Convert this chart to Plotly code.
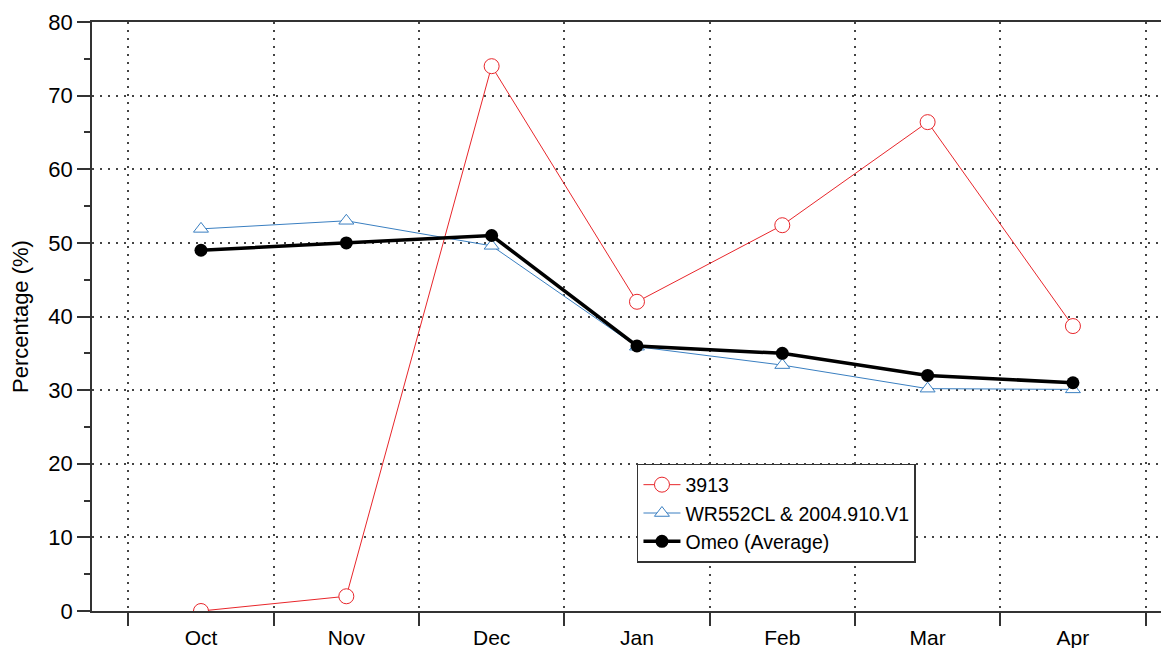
import plotly.graph_objects as go

months = ["Oct", "Nov", "Dec", "Jan", "Feb", "Mar", "Apr"]
s3913 = [0, 2, 74, 42, 52.4, 66.4, 38.7]
wr552 = [51.9, 53.0, 49.6, 35.9, 33.4, 30.2, 30.1]
omeo = [49, 50, 51, 36, 35, 32, 31]
y_ticks = [0, 10, 20, 30, 40, 50, 60, 70, 80]

FONT = "Liberation Sans, Arial, Helvetica, sans-serif"

fig = go.Figure()
fig.add_trace(go.Scatter(
    x=months, y=s3913, name="3913", mode="lines+markers",
    line=dict(color="#e8262b", width=1),
    marker=dict(symbol="circle", size=15, color="white",
                line=dict(color="#e8262b", width=1)),
))
fig.add_trace(go.Scatter(
    x=months, y=wr552, name="WR552CL & 2004.910.V1", mode="lines+markers",
    line=dict(color="#3a7fc1", width=1),
    marker=dict(symbol="triangle-up", size=13, color="white",
                line=dict(color="#3a7fc1", width=1)),
))
fig.add_trace(go.Scatter(
    x=months, y=omeo, name="Omeo (Average)", mode="lines+markers",
    line=dict(color="black", width=3.5),
    marker=dict(symbol="circle", size=13, color="black"),
))

GRID = "#444"
fig.update_layout(
    width=1161, height=640,
    margin=dict(l=84, r=0, t=14, b=37, autoexpand=False),
    paper_bgcolor="white", plot_bgcolor="white",
    font=dict(family=FONT, size=22, color="black"),
    showlegend=True,
    legend=dict(
        x=0.506, y=0.2496, xanchor="left", yanchor="top",
        bgcolor="white", bordercolor="#333", borderwidth=1.5,
        font=dict(family=FONT, size=19.5, color="black"),
        tracegroupgap=0, itemwidth=37,
    ),
    xaxis=dict(
        type="category", range=[-0.75, 6.661], automargin=False,
        tickson="boundaries", ticks="outside", ticklen=13, tickwidth=1.5,
        tickcolor="#333", ticklabelstandoff=7,
        showgrid=True, gridcolor=GRID, griddash="2px,6px", gridwidth=1.5,
        showline=True, linecolor="#333", linewidth=1.5, mirror=True,
        zeroline=False, tickfont=dict(size=21),
    ),
    yaxis=dict(
        range=[0, 80], tickvals=y_ticks, ticks="outside", ticklen=13,
        tickwidth=1.5, tickcolor="#333", automargin=False,
        minor=dict(dtick=5, ticks="outside", ticklen=6, tickcolor="#333",
                   showgrid=False, tickwidth=1.5),
        showgrid=True, gridcolor=GRID, griddash="2px,6px", gridwidth=1.5,
        showline=True, linecolor="#333", linewidth=1.5,
        zeroline=False, tickfont=dict(size=22),
        title=dict(text="Percentage (%)", font=dict(size=22), standoff=18),
    ),
)

fig.write_html("out.html")
